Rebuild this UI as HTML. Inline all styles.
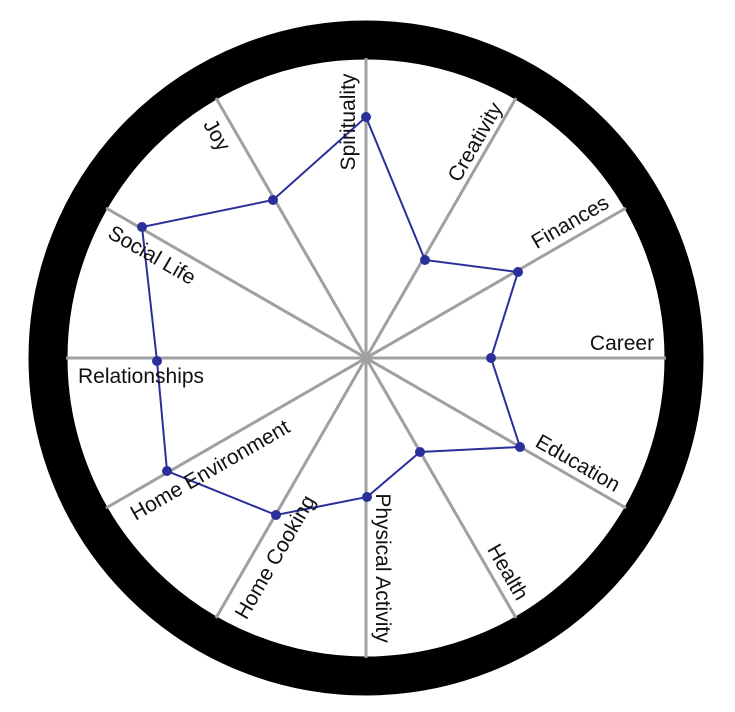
<!DOCTYPE html>
<html><head><meta charset="utf-8"><style>
html,body{margin:0;padding:0;background:#fff;width:735px;height:712px;overflow:hidden}
svg text{font-family:"Liberation Sans",sans-serif;font-size:21px;fill:#111}
</style></head><body>
<svg width="735" height="712" viewBox="0 0 735 712">
<circle cx="366" cy="358" r="318" fill="none" stroke="#000" stroke-width="39"/>
<g stroke="#a0a0a0" stroke-width="3">
<line x1="366" y1="58" x2="366" y2="658"/>
<line x1="66" y1="358" x2="666" y2="358"/>
<line x1="516" y1="98" x2="216" y2="618"/>
<line x1="626" y1="208" x2="106" y2="508"/>
<line x1="626" y1="508" x2="106" y2="208"/>
<line x1="516" y1="618" x2="216" y2="98"/>
</g>
<polygon points="366,117 425,260 518,272 491,358 520,447 420,452 367,497 276,515 167,471 157,361 142,227 273,200" fill="none" stroke="#2a2f9a" stroke-width="2"/>
<g fill="#2a2f9a">
<circle cx="366" cy="117" r="5"/><circle cx="425" cy="260" r="5"/><circle cx="518" cy="272" r="5"/><circle cx="491" cy="358" r="5"/><circle cx="520" cy="447" r="5"/><circle cx="420" cy="452" r="5"/><circle cx="367" cy="497" r="5"/><circle cx="276" cy="515" r="5"/><circle cx="167" cy="471" r="5"/><circle cx="157" cy="361" r="5"/><circle cx="142" cy="227" r="5"/><circle cx="273" cy="200" r="5"/>
</g>
<g text-anchor="middle">
<text transform="translate(348,122) rotate(-90)" y="7">Spirituality</text>
<text transform="translate(475,142) rotate(-60)" y="7">Creativity</text>
<text transform="translate(570,222) rotate(-30)" y="7">Finances</text>
<text transform="translate(622,343)" y="7">Career</text>
<text transform="translate(578,463) rotate(30)" y="7">Education</text>
<text transform="translate(508,572) rotate(60)" y="7">Health</text>
<text transform="translate(383,568) rotate(90)" y="7">Physical Activity</text>
<text transform="translate(275,557) rotate(-60)" y="7">Home Cooking</text>
<text transform="translate(210,470) rotate(-30)" y="7">Home Environment</text>
<text transform="translate(141,376)" y="7">Relationships</text>
<text transform="translate(152,255) rotate(30)" y="7">Social Life</text>
<text transform="translate(217,135) rotate(60)" y="7">Joy</text>
</g>
</svg>
</body></html>
